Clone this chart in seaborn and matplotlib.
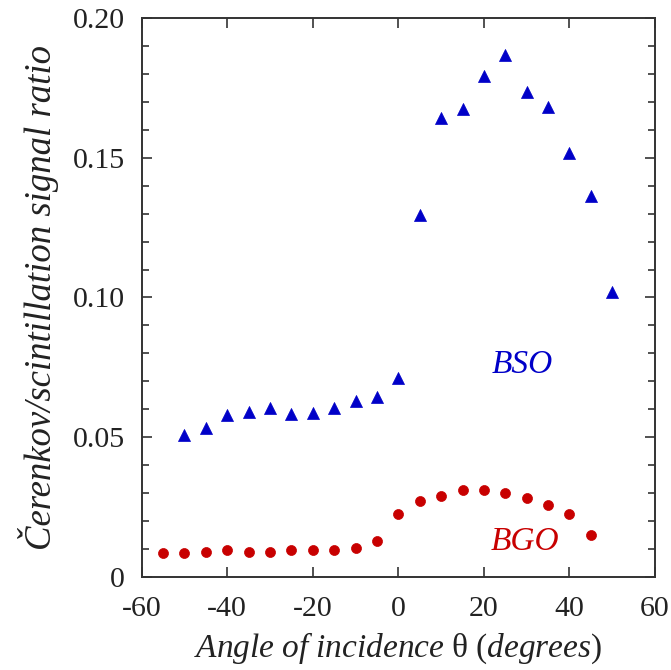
import numpy as np
import pandas as pd
import matplotlib
matplotlib.use("Agg")
import matplotlib.pyplot as plt
from matplotlib.ticker import MultipleLocator, FixedLocator, FixedFormatter
import seaborn as sns

# ---- data ----
bso_angle = [-50, -45, -40, -35, -30, -25, -20, -15, -10, -5, 0,
             5, 10, 15, 20, 25, 30, 35, 40, 45, 50]
bso_ratio = [0.0506, 0.0533, 0.0578, 0.0591, 0.0605, 0.0581, 0.0586, 0.0605, 0.0628, 0.0642, 0.0713,
             0.1295, 0.1643, 0.1674, 0.1794, 0.1869, 0.1736, 0.1684, 0.1516, 0.1365, 0.1020]
bgo_angle = [-55, -50, -45, -40, -35, -30, -25, -20, -15, -10, -5, 0,
             5, 10, 15, 20, 25, 30, 35, 40, 45]
bgo_ratio = [0.0084, 0.0084, 0.0090, 0.0094, 0.0090, 0.0090, 0.0094, 0.0094, 0.0094, 0.0103, 0.0127, 0.0224,
             0.0270, 0.0289, 0.0312, 0.0312, 0.0299, 0.0280, 0.0257, 0.0224, 0.0148]
x_ticks = [-60, -40, -20, 0, 20, 40, 60]
y_ticks = [0, 0.05, 0.10, 0.15, 0.20]
y_tick_labels = ["0", "0.05", "0.10", "0.15", "0.20"]

bso = pd.DataFrame({"angle": bso_angle, "ratio": bso_ratio})
bgo = pd.DataFrame({"angle": bgo_angle, "ratio": bgo_ratio})

sns.set_style("ticks")
plt.rcParams["font.family"] = ["Liberation Serif", "DejaVu Serif"]
plt.rcParams["axes.unicode_minus"] = False
plt.rcParams["mathtext.fontset"] = "custom"
plt.rcParams["mathtext.rm"] = "Liberation Serif"
plt.rcParams["mathtext.it"] = "Liberation Serif:italic"

fig = plt.figure(figsize=(6.71, 6.70), dpi=100)
ax = fig.add_axes([0.2112, 0.1393, 0.9762 - 0.2112, 0.9727 - 0.1393])

blue = "#0000c8"
red = "#c80000"
sns.scatterplot(data=bso, x="angle", y="ratio", marker="^", s=75, color=blue,
                edgecolor=blue, linewidth=0.5, ax=ax, zorder=3)
sns.scatterplot(data=bgo, x="angle", y="ratio", marker="o", s=52, color=red,
                edgecolor=red, linewidth=0.5, ax=ax, zorder=3)

ax.set_xlim(-60, 60)
ax.set_ylim(0, 0.20)
ax.xaxis.set_major_locator(FixedLocator(x_ticks))
ax.yaxis.set_major_locator(FixedLocator(y_ticks))
ax.yaxis.set_major_formatter(FixedFormatter(y_tick_labels))
ax.yaxis.set_minor_locator(MultipleLocator(0.01))

for s in ax.spines.values():
    s.set_visible(True)
    s.set_color("#333333")
    s.set_linewidth(1.4)

ax.tick_params(which="both", direction="in", top=True, right=True,
               color="#333333", width=1.2, labelsize=21.5, labelcolor="#222222")
ax.tick_params(which="major", length=7)
ax.tick_params(which="minor", length=5)
ax.tick_params(axis="x", pad=14)
ax.tick_params(axis="y", pad=12)

ax.set_xlabel(r"$\mathit{Angle\ of\ incidence}\ \mathrm{\theta}\ \mathit{(degrees)}$",
              fontsize=24, color="#222222", labelpad=6)
ax.set_ylabel("Čerenkov/scintillation signal ratio", fontsize=26.5, style="italic",
              color="#222222", labelpad=10)

ax.text(28.9, 0.0758, "BSO", color=blue, fontsize=24, style="italic",
        ha="center", va="center")
ax.text(29.7, 0.0124, "BGO", color=red, fontsize=24, style="italic",
        ha="center", va="center")

fig.savefig("out.png", dpi=100)
